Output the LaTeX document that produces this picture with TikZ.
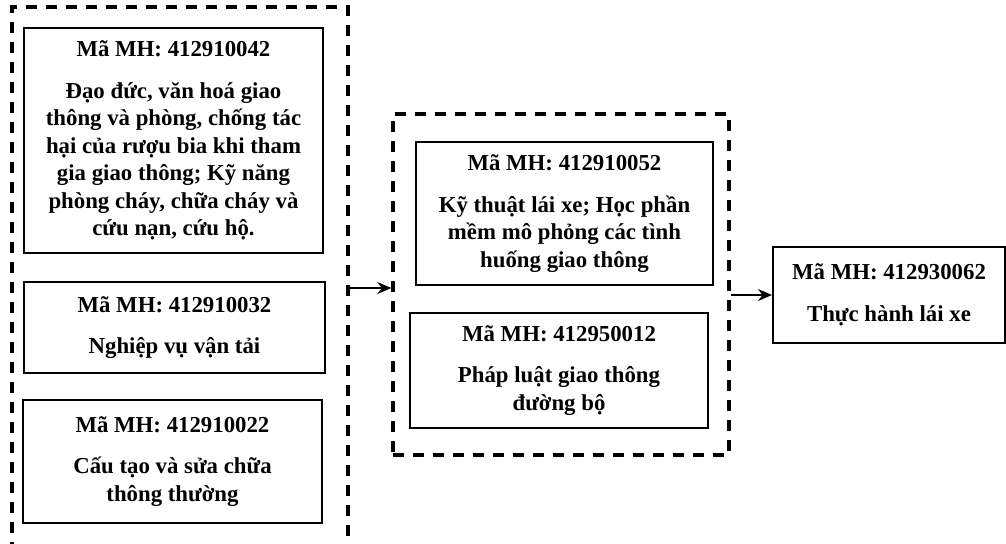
\documentclass[tikz,border=0pt]{standalone}
\usepackage{fontspec}
\setmainfont{Liberation Serif}
\usetikzlibrary{arrows.meta,positioning}

\begin{document}
\begin{tikzpicture}[x=0.5pt, y=-0.5pt,
    course/.style={draw, line width=1pt, align=center, inner sep=0pt,
      font=\fontsize{11.4}{13.75}\selectfont\bfseries},
    group/.style={draw, line width=1.7pt, dash pattern=on 5.5pt off 4.5pt, inner sep=0pt},
    link/.style={-{Stealth[length=7pt,width=6pt]}, line width=0.9pt}]
  \useasboundingbox (0,0) rectangle (1006,543);
  \clip (0,0) rectangle (1006,543);

  % Left group: three courses
  \node[group, minimum width=168pt, minimum height=286.5pt] (grpA) at (180,293.5) {};
  \node[course, minimum width=149.5pt, minimum height=112.5pt] (dd) at (173.5,140.5)
    {Mã MH: 412910042\\[7pt]Đạo đức, văn hoá giao\\thông và phòng, chống tác\\hại của rượu bia khi tham\\gia giao thông; Kỹ năng\\phòng cháy, chữa cháy và\\cứu nạn, cứu hộ.};
  \node[course, minimum width=150.5pt, minimum height=45.5pt] (vt) at (174.5,327.5)
    {Mã MH: 412910032\\[7pt]Nghiệp vụ vận tải};
  \node[course, minimum width=149.5pt, minimum height=61.5pt] (ct) at (172.5,461.5)
    {Mã MH: 412910022\\[7pt]Cấu tạo và sửa chữa\\thông thường};

  % Middle group: two courses
  \node[group, minimum width=168pt, minimum height=170.5pt] (grpB) at (561,284.5) {};
  \node[course, minimum width=148.5pt, minimum height=71.5pt] (kt) at (564.5,213.5)
    {Mã MH: 412910052\\[7pt]Kỹ thuật lái xe; Học phần\\mềm mô phỏng các tình\\huống giao thông};
  \node[course, minimum width=149pt, minimum height=57.5pt] (pl) at (559,370.5)
    {Mã MH: 412950012\\[7pt]Pháp luật giao thông\\đường bộ};

  % Final course
  \node[course, minimum width=116pt, minimum height=48pt] (th) at (889,295)
    {Mã MH: 412930062\\[7pt]Thực hành lái xe};

  \coordinate (inB) at ([yshift=-1.75pt]grpB.west);
  \draw[link] (grpA.east |- inB) -- (inB);
  \draw[link] (grpB.east |- th.west) -- (th.west);
\end{tikzpicture}
\end{document}
